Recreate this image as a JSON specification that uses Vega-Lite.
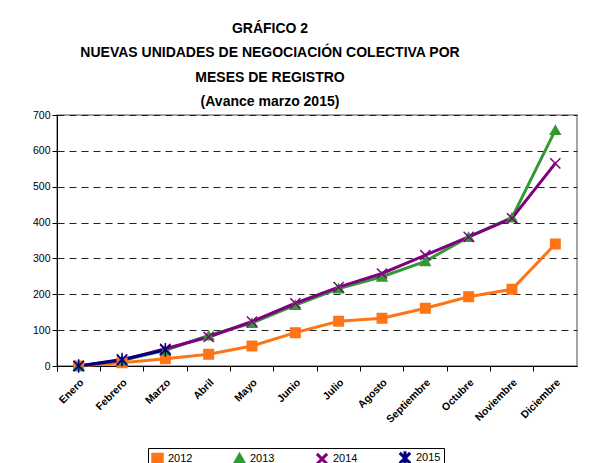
{
  "$schema": "https://vega.github.io/schema/vega-lite/v6.json",
  "width": 520,
  "height": 251,
  "autosize": "none",
  "padding": {"left": 57, "top": 115, "right": 29, "bottom": 97},
  "background": "white",
  "title": {
    "text": ["GRÁFICO 2", "NUEVAS UNIDADES DE NEGOCIACIÓN COLECTIVA POR", "MESES DE REGISTRO", "(Avance marzo 2015)"],
    "font": "Liberation Sans",
    "fontSize": 14,
    "fontWeight": "bold",
    "color": "black",
    "lineHeight": 24.5,
    "anchor": "middle",
    "frame": "group",
    "dx": -47,
    "offset": 1
  },
  "data": {
    "values": [
      {"mes": "Enero", "anio": "2012", "valor": 0},
      {"mes": "Febrero", "anio": "2012", "valor": 9},
      {"mes": "Marzo", "anio": "2012", "valor": 20},
      {"mes": "Abril", "anio": "2012", "valor": 33},
      {"mes": "Mayo", "anio": "2012", "valor": 56},
      {"mes": "Junio", "anio": "2012", "valor": 93},
      {"mes": "Julio", "anio": "2012", "valor": 125},
      {"mes": "Agosto", "anio": "2012", "valor": 133},
      {"mes": "Septiembre", "anio": "2012", "valor": 161},
      {"mes": "Octubre", "anio": "2012", "valor": 193},
      {"mes": "Noviembre", "anio": "2012", "valor": 214},
      {"mes": "Diciembre", "anio": "2012", "valor": 340},
      {"mes": "Enero", "anio": "2013", "valor": 0},
      {"mes": "Febrero", "anio": "2013", "valor": 15},
      {"mes": "Marzo", "anio": "2013", "valor": 44},
      {"mes": "Abril", "anio": "2013", "valor": 85},
      {"mes": "Mayo", "anio": "2013", "valor": 120},
      {"mes": "Junio", "anio": "2013", "valor": 170},
      {"mes": "Julio", "anio": "2013", "valor": 216},
      {"mes": "Agosto", "anio": "2013", "valor": 249},
      {"mes": "Septiembre", "anio": "2013", "valor": 292},
      {"mes": "Octubre", "anio": "2013", "valor": 360},
      {"mes": "Noviembre", "anio": "2013", "valor": 414},
      {"mes": "Diciembre", "anio": "2013", "valor": 658},
      {"mes": "Enero", "anio": "2014", "valor": 0},
      {"mes": "Febrero", "anio": "2014", "valor": 16},
      {"mes": "Marzo", "anio": "2014", "valor": 48},
      {"mes": "Abril", "anio": "2014", "valor": 81},
      {"mes": "Mayo", "anio": "2014", "valor": 124},
      {"mes": "Junio", "anio": "2014", "valor": 175},
      {"mes": "Julio", "anio": "2014", "valor": 220},
      {"mes": "Agosto", "anio": "2014", "valor": 258},
      {"mes": "Septiembre", "anio": "2014", "valor": 309},
      {"mes": "Octubre", "anio": "2014", "valor": 360},
      {"mes": "Noviembre", "anio": "2014", "valor": 412},
      {"mes": "Diciembre", "anio": "2014", "valor": 565},
      {"mes": "Enero", "anio": "2015", "valor": 0},
      {"mes": "Febrero", "anio": "2015", "valor": 18},
      {"mes": "Marzo", "anio": "2015", "valor": 45}
    ]
  },
  "encoding": {
    "x": {
      "field": "mes",
      "type": "nominal",
      "sort": ["Enero", "Febrero", "Marzo", "Abril", "Mayo", "Junio", "Julio", "Agosto", "Septiembre", "Octubre", "Noviembre", "Diciembre"],
      "scale": {"type": "band", "paddingInner": 0, "paddingOuter": 0},
      "bandPosition": 0.5,
      "axis": {
        "title": null,
        "labelAngle": -45,
        "labelAlign": "right",
        "labelBaseline": "top",
        "labelFont": "Liberation Sans",
        "labelFontWeight": "bold",
        "labelFontSize": 10.5,
        "labelColor": "black",
        "labelPadding": 6,
        "bandPosition": 0,
        "tickExtra": true,
        "tickSize": 5,
        "tickColor": "black",
        "domainColor": "black",
        "grid": false
      }
    },
    "y": {
      "field": "valor",
      "type": "quantitative",
      "scale": {"domain": [0, 700], "nice": false},
      "axis": {
        "title": null,
        "values": [0, 100, 200, 300, 400, 500, 600, 700],
        "labelFont": "Liberation Sans",
        "labelFontSize": 10.5,
        "labelColor": "black",
        "tickColor": "black",
        "tickSize": 5,
        "domainColor": "black",
        "grid": true,
        "gridColor": "#222",
        "gridDash": [7, 5],
        "gridWidth": 1
      }
    },
    "stroke": {
      "field": "anio",
      "type": "nominal",
      "scale": {"domain": ["2012", "2013", "2014", "2015"], "range": ["#FF7417", "#339933", "#800080", "#000080"]},
      "legend": {"title": null, "orient": "none", "legendX": 91, "legendY": 333, "direction": "horizontal"}
    }
  },
  "layer": [
    {
      "mark": {"type": "line"},
      "encoding": {
        "strokeWidth": {
          "field": "anio",
          "type": "nominal",
          "scale": {"domain": ["2012", "2013", "2014", "2015"], "range": [3, 3, 3.5, 6]},
          "legend": null
        }
      }
    },
    {
      "mark": {"type": "point", "opacity": 1, "strokeWidth": 1.5},
      "encoding": {
        "shape": {
          "field": "anio",
          "type": "nominal",
          "scale": {"domain": ["2012", "2013", "2014", "2015"], "range": ["square", "triangle-up", "M-1,-1L1,1M-1,1L1,-1", "M-1,-1L1,1M-1,1L1,-1M0,-1.3L0,1.3"]},
          "legend": {"title": null, "orient": "none", "legendX": 91, "legendY": 333, "direction": "horizontal"}
        },
        "fill": {
          "field": "anio",
          "type": "nominal",
          "scale": {"domain": ["2012", "2013", "2014", "2015"], "range": ["#FF7417", "#339933", "transparent", "transparent"]},
          "legend": {"title": null, "orient": "none", "legendX": 91, "legendY": 333, "direction": "horizontal"}
        },
        "size": {
          "field": "anio",
          "type": "nominal",
          "scale": {"domain": ["2012", "2013", "2014", "2015"], "range": [90, 110, 220, 260]},
          "legend": null
        }
      }
    }
  ],
  "config": {
    "view": {"stroke": "#888", "strokeWidth": 1.5},
    "legend": {
      "strokeColor": "black",
      "strokeWidth": 1,
      "padding": 3,
      "labelFont": "Liberation Sans",
      "labelFontSize": 11,
      "labelColor": "black",
      "symbolSize": 100,
      "symbolStrokeWidth": 2,
      "columnPadding": 35,
      "labelOffset": 4
    }
  }
}
